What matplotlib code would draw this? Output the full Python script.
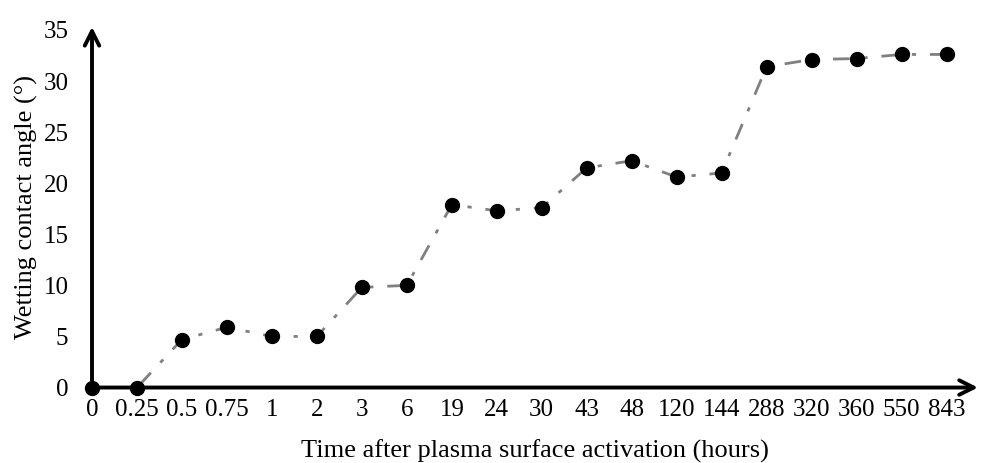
import matplotlib.pyplot as plt

# time after activation (hours) and wetting contact angle (deg)
hours = ['0', '0.25', '0.5', '0.75', '1', '2', '3', '6', '19', '24', '30',
         '43', '48', '120', '144', '288', '320', '360', '550', '843']
angle = [0, 0, 4.7, 5.9, 5.0, 5.0, 9.8, 10.0, 17.9, 17.3, 17.6,
         21.5, 22.2, 20.6, 21.0, 31.4, 32.1, 32.2, 32.6, 32.6]
yticks = [0, 5, 10, 15, 20, 25, 30, 35]

plt.rcParams['font.family'] = ['Liberation Serif', 'DejaVu Serif']

fig = plt.figure(figsize=(9.82, 4.63), dpi=100)
ax = fig.add_axes([92 / 982, 0.163, (978 - 92) / 982, 0.779])

x = list(range(len(hours)))
ax.plot(x, angle, color='#808080', linestyle='-.', linewidth=2,
        dashes=(6, 5, 1.5, 5), zorder=2, clip_on=False)
ax.plot(x, angle, 'o', color='black', markersize=10, zorder=3, clip_on=False)

ax.set_xlim(0, 19.7)
ax.set_ylim(0, 35.3)
ax.set_xticks(x)
ax.set_xticklabels(hours)
ax.set_yticks(yticks)
ax.tick_params(length=0, labelsize=18)
ax.tick_params(axis='x', pad=8)
ax.tick_params(axis='y', pad=17)

for s in ax.spines.values():
    s.set_visible(False)

# axis lines with arrow heads
ax.annotate('', xy=(1, 0), xytext=(0, 0), xycoords='axes fraction',
            arrowprops=dict(arrowstyle='->', lw=2.8, color='black',
                            mutation_scale=26, shrinkA=0, shrinkB=0))
ax.annotate('', xy=(0, 1), xytext=(0, 0), xycoords='axes fraction',
            arrowprops=dict(arrowstyle='->', lw=2.8, color='black',
                            mutation_scale=26, shrinkA=0, shrinkB=0))

ax.set_xlabel('Time after plasma surface activation (hours)', fontsize=19, labelpad=14)
ax.set_ylabel('Wetting contact angle (°)', fontsize=19, labelpad=4)

fig.savefig('out.png', dpi=100)
